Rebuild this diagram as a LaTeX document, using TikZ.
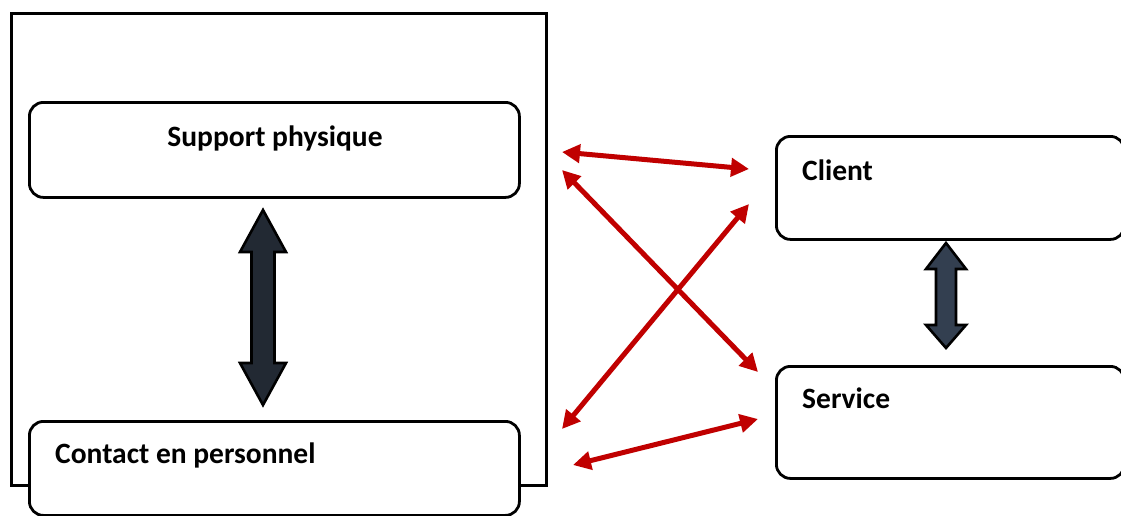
\documentclass[tikz,border=0pt]{standalone}
\usepackage{fontspec}
\setmainfont{Carlito}
\usetikzlibrary{arrows.meta}
\definecolor{linkred}{HTML}{C00000}
\definecolor{darkfill}{HTML}{222933}
\definecolor{slatefill}{HTML}{333F50}
\begin{document}
\begin{tikzpicture}[x=1pt,y=-1pt,
  roundbox/.style={draw=black,line width=2.8pt,rounded corners=14pt,fill=white,
    rectangle,inner sep=0pt,anchor=north west},
  boxlabel/.style={font=\bfseries\fontsize{29.5}{34}\selectfont,inner sep=0pt},
  link/.style={draw=linkred,line width=5pt,{Triangle[length=18pt,width=18pt]}-{Triangle[length=18pt,width=18pt]}},
  blockarrow/.style={draw=black,line width=2.6pt,line join=miter}]
\useasboundingbox (0,0) rectangle (1121,515);

% enclosing frame
\node (frame) [draw=black,line width=3pt,rectangle,inner sep=0pt,anchor=north west,
  minimum width=535pt,minimum height=472pt] at (10,12) {};

% boxes
\node (support) [roundbox,minimum width=490pt,minimum height=95pt] at (28,101) {};
\node (contact) [roundbox,minimum width=490pt,minimum height=94pt] at (28,420) {};
\node (client)  [roundbox,minimum width=348pt,minimum height=103pt] at (775,135) {};
\node (service) [roundbox,minimum width=348pt,minimum height=112pt] at (775,365) {};

% labels
\node (tsupport) [boxlabel,anchor=base] at (275,146) {Support physique};
\node (tcontact) [boxlabel,anchor=base west] at (55,463) {Contact en personnel};
\node (tclient)  [boxlabel,anchor=base west] at (802,180) {Client};
\node (tservice) [boxlabel,anchor=base west] at (802,408) {Service};

% block arrow between Support physique and Contact en personnel
\draw[blockarrow,fill=darkfill]
  (263,210) -- (286,252) -- (274.5,252) -- (274.5,363) -- (286,363) -- (263,405)
  -- (240,363) -- (251.5,363) -- (251.5,252) -- (240,252) -- cycle;

% block arrow between Client and Service
\draw[blockarrow,fill=slatefill]
  (946,243) -- (966,269) -- (956,269) -- (956,325) -- (966,325) -- (946,348)
  -- (926,325) -- (936,325) -- (936,269) -- (926,269) -- cycle;

% end points of the red links
\coordinate (s1) at (562,152);
\coordinate (c1) at (749,169);
\coordinate (s2) at (562,170);
\coordinate (v1) at (758,372);
\coordinate (p1) at (562,429);
\coordinate (c2) at (749,204);
\coordinate (p2) at (573,465);
\coordinate (v2) at (758,419);

\draw[link] (s1) -- (c1);
\draw[link] (s2) -- (v1);
\draw[link] (p1) -- (c2);
\draw[link] (p2) -- (v2);
\end{tikzpicture}
\end{document}
